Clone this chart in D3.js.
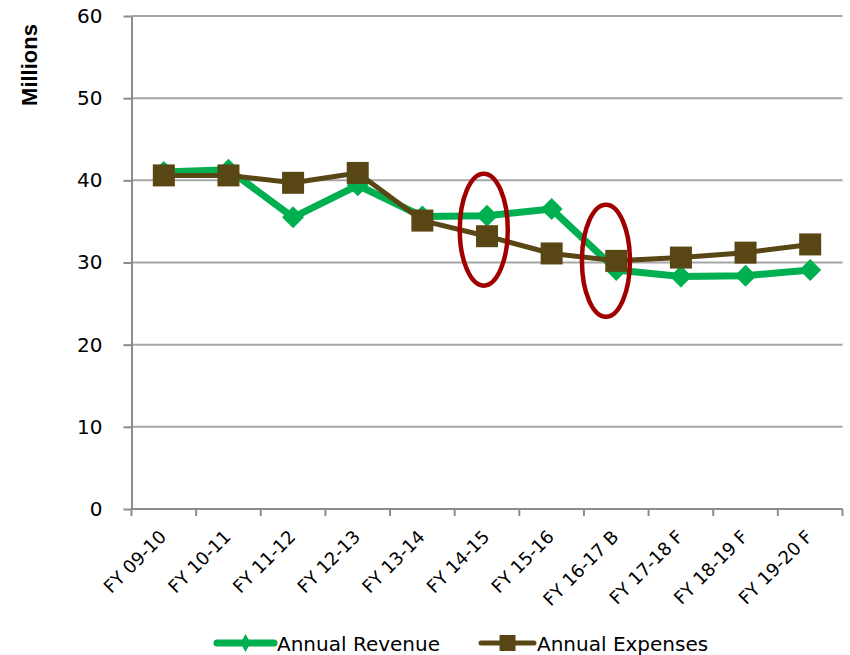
<!DOCTYPE html>
<html>
<head>
<meta charset="utf-8">
<script src="https://cdn.jsdelivr.net/npm/d3@7"></script>
<style>
  html, body { margin: 0; padding: 0; background: #fff; }
  svg { display: block; }
</style>
</head>
<body>
<svg id="chart" width="850" height="655"></svg>
<script>
// Fiscal years shown on the x axis
const categories = ["FY 09-10", "FY 10-11", "FY 11-12", "FY 12-13", "FY 13-14", "FY 14-15",
                    "FY 15-16", "FY 16-17 B", "FY 17-18 F", "FY 18-19 F", "FY 19-20 F"];
// Values in millions
const revenue  = [41.0, 41.3, 35.5, 39.4, 35.6, 35.7, 36.5, 29.1, 28.3, 28.4, 29.1];
const expenses = [40.6, 40.6, 39.7, 40.9, 35.1, 33.2, 31.1, 30.2, 30.6, 31.2, 32.2];
const yTicks = [0, 10, 20, 30, 40, 50, 60];
// Circled years: position in category-index units and value at the ellipse centre
const highlights = [
  { index: 4.95, value: 34.0 },
  { index: 6.84, value: 30.2 }
];

const svg = d3.select("#chart");
const font = "'DejaVu Sans', sans-serif";
const margin = { left: 131.5, right: 7.5, top: 16, bottom: 146 };
const W = 850, H = 655;

const x = d3.scaleBand().domain(categories).range([margin.left, W - margin.right]);
const y = d3.scaleLinear().domain([0, 60]).range([H - margin.bottom, margin.top]);
const cx = c => x(c) + x.bandwidth() / 2;
const xi = d3.scaleLinear().domain([0, categories.length - 1])
  .range([cx(categories[0]), cx(categories[categories.length - 1])]);

// Horizontal gridlines
svg.append("g")
  .selectAll("line")
  .data(yTicks.filter(t => t > 0))
  .join("line")
  .attr("x1", margin.left).attr("x2", W - margin.right)
  .attr("y1", d => y(d)).attr("y2", d => y(d))
  .attr("stroke", "#a6a6a6").attr("stroke-width", 2);

// Y axis
const yAxis = svg.append("g")
  .attr("transform", `translate(${margin.left},0)`)
  .call(d3.axisLeft(y).tickValues(yTicks).tickSize(8).tickPadding(21).tickSizeOuter(0));
yAxis.select(".domain").attr("stroke", "#8c8c8c").attr("stroke-width", 2);
yAxis.selectAll(".tick line").attr("stroke", "#8c8c8c").attr("stroke-width", 2);
yAxis.selectAll(".tick text")
  .attr("font-family", font).attr("font-size", 20).attr("fill", "#000");

// X axis with ticks on band boundaries
const xAxisG = svg.append("g").attr("transform", `translate(0,${y(0)})`);
xAxisG.append("line")
  .attr("x1", margin.left).attr("x2", W - margin.right)
  .attr("stroke", "#8c8c8c").attr("stroke-width", 2);
xAxisG.selectAll(".xt")
  .data(d3.range(categories.length + 1))
  .join("line")
  .attr("class", "xt")
  .attr("x1", i => margin.left + i * x.step())
  .attr("x2", i => margin.left + i * x.step())
  .attr("y1", 0).attr("y2", 7)
  .attr("stroke", "#8c8c8c").attr("stroke-width", 2);
xAxisG.selectAll(".xl")
  .data(categories)
  .join("text")
  .attr("class", "xl")
  .attr("transform", d => `translate(${cx(d) + 3.5},${29}) rotate(-45)`)
  .attr("text-anchor", "end")
  .attr("font-family", font).attr("font-size", 18)
  .text(d => d);

// Y axis title
svg.append("text")
  .attr("transform", `translate(37,${65}) rotate(-90)`)
  .attr("text-anchor", "middle")
  .attr("font-family", "'Liberation Sans', Arial, sans-serif")
  .attr("font-weight", "bold").attr("font-size", 22)
  .text("Millions");

const green = "#00b050", brown = "#584614";

// Revenue line and diamond markers
svg.append("path")
  .datum(revenue)
  .attr("fill", "none").attr("stroke", green).attr("stroke-width", 7)
  .attr("stroke-linejoin", "round")
  .attr("d", d3.line().x((d, i) => cx(categories[i])).y(d => y(d)));
svg.append("g").selectAll("path")
  .data(revenue)
  .join("path")
  .attr("transform", (d, i) => `translate(${cx(categories[i])},${y(d)})`)
  .attr("d", "M0,-11L11,0L0,11L-11,0Z")
  .attr("fill", green);

// Expenses line and square markers
svg.append("path")
  .datum(expenses)
  .attr("fill", "none").attr("stroke", brown).attr("stroke-width", 5)
  .attr("stroke-linejoin", "round")
  .attr("d", d3.line().x((d, i) => cx(categories[i])).y(d => y(d)));
svg.append("g").selectAll("rect")
  .data(expenses)
  .join("rect")
  .attr("x", (d, i) => cx(categories[i]) - 11)
  .attr("y", d => y(d) - 11)
  .attr("width", 22).attr("height", 22)
  .attr("fill", brown);

// Highlight ellipses
svg.append("g").selectAll("ellipse")
  .data(highlights)
  .join("ellipse")
  .attr("cx", d => xi(d.index))
  .attr("cy", d => y(d.value))
  .attr("rx", 24).attr("ry", 56)
  .attr("fill", "none").attr("stroke", "#a00000").attr("stroke-width", 4.5);

// Legend
const legend = svg.append("g").attr("transform", "translate(0,643)");
const items = [
  { label: "Annual Revenue", color: green, x0: 217, x1: 274, tx: 277, mark: "diamond", w: 7 },
  { label: "Annual Expenses", color: brown, x0: 481, x1: 534, tx: 537, mark: "square", w: 5 }
];
items.forEach(it => {
  legend.append("line")
    .attr("x1", it.x0).attr("x2", it.x1)
    .attr("stroke", it.color).attr("stroke-width", it.w).attr("stroke-linecap", "round");
  const mx = (it.x0 + it.x1) / 2;
  if (it.mark === "diamond") {
    legend.append("path").attr("d", `M${mx},-9L${mx + 5},0L${mx},9L${mx - 5},0Z`).attr("fill", it.color);
  } else {
    legend.append("rect").attr("x", mx - 8).attr("y", -8).attr("width", 16).attr("height", 16).attr("fill", it.color);
  }
  legend.append("text")
    .attr("x", it.tx).attr("y", 7.5)
    .attr("font-family", font).attr("font-size", 20)
    .text(it.label);
});
</script>
</body>
</html>
